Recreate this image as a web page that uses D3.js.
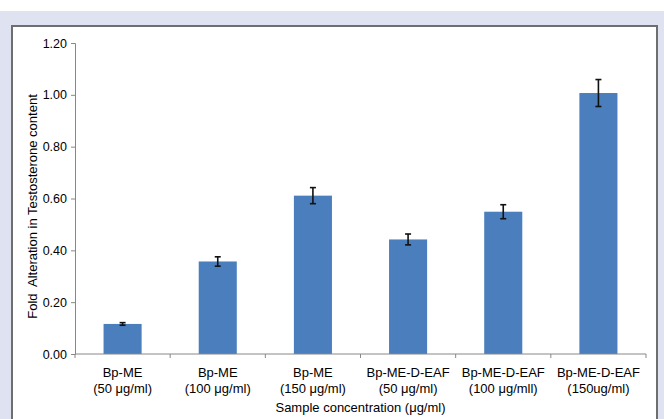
<!DOCTYPE html>
<html>
<head>
<meta charset="utf-8">
<script src="https://cdn.jsdelivr.net/npm/d3@7"></script>
<style>
  body { margin: 0; background: #fff; }
  svg text { font-family: "Liberation Sans", Arial, sans-serif; fill: #000; }
</style>
</head>
<body>
<div id="chart"></div>
<script>
var categories = ["Bp-ME|(50 μg/ml)", "Bp-ME|(100 μg/ml)", "Bp-ME|(150 μg/ml)",
                  "Bp-ME-D-EAF|(50 μg/ml)", "Bp-ME-D-EAF|(100 μg/mll)", "Bp-ME-D-EAF|(150ug/ml)"];
var values = [0.116, 0.357, 0.611, 0.442, 0.549, 1.007];
var errors = [0.005, 0.018, 0.031, 0.021, 0.027, 0.052];
var yTicks = [0, 0.2, 0.4, 0.6, 0.8, 1.0, 1.2];

var w = 664, h = 419;
var svg = d3.select("#chart").append("svg").attr("width", w).attr("height", h);

// 背景
svg.append("rect").attr("x", 0).attr("y", 11).attr("width", w).attr("height", h - 11).attr("fill", "#dfe3f1");
svg.append("rect").attr("x", 12).attr("y", 26).attr("width", 645).attr("height", 400)
   .attr("fill", "#fff").attr("stroke", "#6e6e6e").attr("stroke-width", 2);

var pL = 75, pR = 646, pT = 43, pB = 354;
var x = d3.scaleBand().domain(categories).range([pL, pR]).paddingInner(0.6).paddingOuter(0.3);
var xb = d3.scaleBand().domain(categories).range([pL, pR]);
var y = d3.scaleLinear().domain([0, 1.2]).range([pB, pT]);

// y轴
var yAxis = svg.append("g").attr("transform", "translate(" + pL + ",0)")
  .call(d3.axisLeft(y).tickValues(yTicks).tickFormat(d3.format(".2f")).tickSize(4).tickPadding(4));
yAxis.select(".domain").attr("stroke", "#888");
yAxis.selectAll(".tick line").attr("stroke", "#888");
yAxis.selectAll(".tick text").attr("font-size", "12.5px").attr("fill", "#000");

// 柱
svg.selectAll("rect.bar").data(values).enter().append("rect")
  .attr("class", "bar")
  .attr("x", (d, i) => x(categories[i]))
  .attr("width", x.bandwidth())
  .attr("y", d => y(d))
  .attr("height", d => y(0) - y(d))
  .attr("fill", "#4a7ebd");

// 误差线
var eg = svg.selectAll("g.err").data(values).enter().append("g").attr("class", "err")
  .attr("stroke", "#111").attr("stroke-width", 1.6);
eg.append("line")
  .attr("x1", (d, i) => x(categories[i]) + x.bandwidth() / 2)
  .attr("x2", (d, i) => x(categories[i]) + x.bandwidth() / 2)
  .attr("y1", (d, i) => y(d + errors[i]))
  .attr("y2", (d, i) => y(d - errors[i]));
[1, -1].forEach(function(s) {
  eg.append("line")
    .attr("x1", (d, i) => x(categories[i]) + x.bandwidth() / 2 - 3)
    .attr("x2", (d, i) => x(categories[i]) + x.bandwidth() / 2 + 3)
    .attr("y1", (d, i) => y(d + s * errors[i]))
    .attr("y2", (d, i) => y(d + s * errors[i]));
});

// x轴
var xg = svg.append("g");
xg.append("line").attr("x1", pL).attr("x2", pR).attr("y1", pB).attr("y2", pB).attr("stroke", "#888");
var edges = categories.map(c => xb(c)).concat([pR]);
xg.selectAll("line.tk").data(edges).enter().append("line")
  .attr("x1", d => d).attr("x2", d => d).attr("y1", pB).attr("y2", pB + 4).attr("stroke", "#888");
categories.forEach(function(c) {
  var parts = c.split("|");
  var cx = xb(c) + xb.bandwidth() / 2;
  parts.forEach(function(p, k) {
    svg.append("text").attr("x", cx).attr("y", 377 + k * 16).attr("text-anchor", "middle")
      .attr("font-size", "13px").text(p);
  });
});

// 轴标题
svg.append("text").attr("x", (pL + pR) / 2).attr("y", 412).attr("text-anchor", "middle")
  .attr("font-size", "13px").text("Sample concentration (μg/ml)");
svg.append("text").attr("transform", "translate(37," + ((pT + pB) / 2 + 8) + ") rotate(-90)")
  .attr("text-anchor", "middle").attr("font-size", "13px")
  .attr("xml:space", "preserve").style("white-space", "pre")
  .text("Fold  Alteration in Testosterone content");
</script>
</body>
</html>
